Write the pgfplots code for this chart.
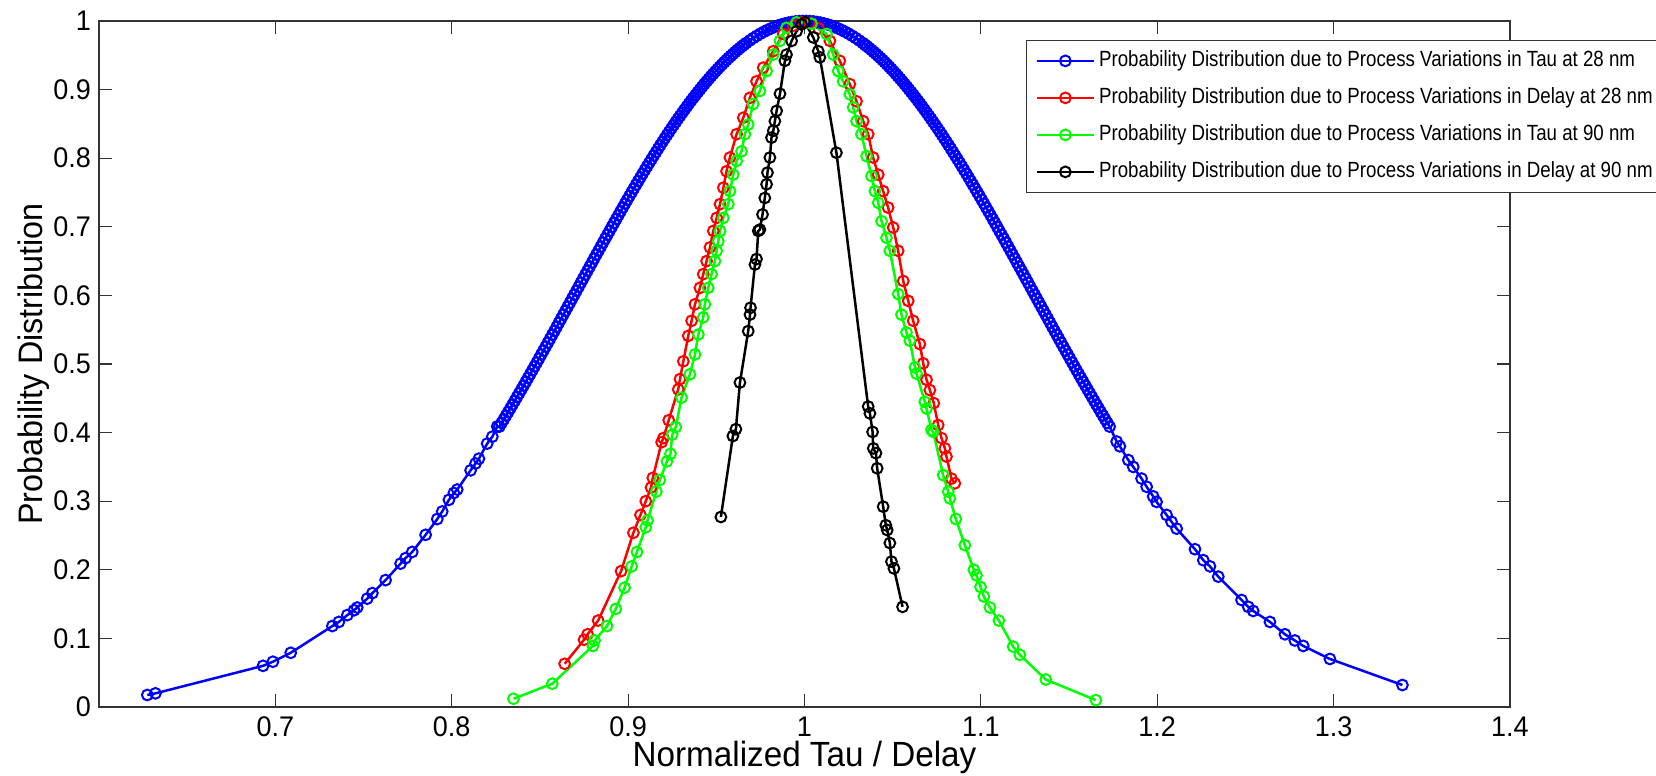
\documentclass[border=0pt]{standalone}
\usepackage{fontspec}
\setmainfont{Liberation Sans}[FakeStretch=0.95]
\newfontfamily\legfont{Liberation Sans}[FakeStretch=0.85]
\usepackage{pgfplots}
\pgfplotsset{compat=1.18}
\begin{document}
\begin{tikzpicture}
\useasboundingbox (0pt,0pt) rectangle (828pt,388pt);
\clip (0pt,0pt) rectangle (828pt,388pt);
\begin{axis}[
  at={(49.5pt,34.5pt)}, anchor=south west,
  scale only axis, width=705.5pt, height=343pt,
  xmin=0.6, xmax=1.4, ymin=0, ymax=1,
  xtick={0.7,0.8,0.9,1,1.1,1.2,1.3,1.4},
  ytick={0,0.1,0.2,0.3,0.4,0.5,0.6,0.7,0.8,0.9,1},
  tick align=inside, major tick length=6.5pt,
  every tick/.style={black!80, line width=0.6pt},
  axis line style={black!80, line width=0.7pt},
  /pgf/number format/assume math mode=true,
  ticklabel style={font=\fontsize{14.2}{16}\selectfont},
  xticklabel style={yshift=-1.3pt},
  yticklabel style={xshift=-0.5pt},
  xlabel={Normalized Tau / Delay},
  ylabel={Probability Distribution},
  xlabel style={font=\fontsize{17.5}{20}\selectfont, at={([yshift=-30pt]axis description cs:0.5,0)}, anchor=base},
  ylabel style={font=\fontsize{17}{20}\selectfont, at={([xshift=-28.5pt]axis description cs:0,0.5)}, anchor=base},
  legend cell align=left,
  legend style={at={(0.657,0.9723)}, anchor=north west, draw=black!80, line width=0.6pt,
    fill=white, inner xsep=4.5pt, inner ysep=3.9pt, row sep=6pt, column sep=1pt,
    font=\legfont\fontsize{11}{13}\selectfont,
    nodes={inner sep=1pt, text height=8pt, text depth=2.5pt}},
  legend image code/.code={\draw[mark repeat=2,mark phase=2,#1] plot coordinates {(0pt,0pt) (14.25pt,0pt) (28.5pt,0pt)};},
  every axis plot/.append style={line width=1.25pt, mark=o, mark size=2.7pt, mark options={line width=1.0pt, solid}},
]
\addplot[blue] coordinates {
(0.6274,0.0175) (0.6320,0.0199) (0.6930,0.0600) (0.6986,0.0660) (0.7087,0.0790)
(0.7323,0.1180) (0.7360,0.1240) (0.7408,0.1340) (0.7446,0.1410) (0.7464,0.1450)
(0.7521,0.1580) (0.7550,0.1660) (0.7625,0.1850) (0.7710,0.2090) (0.7738,0.2170)
(0.7776,0.2260) (0.7852,0.2510) (0.7918,0.2740) (0.7946,0.2850) (0.7984,0.3020)
(0.8012,0.3120) (0.8031,0.3170) (0.8107,0.3450) (0.8135,0.3550) (0.8154,0.3620)
(0.8201,0.3840) (0.8230,0.3940) (0.8258,0.4090)
(0.8270,0.4087) (0.8295,0.4193) (0.8320,0.4300) (0.8345,0.4409) (0.8370,0.4519)
(0.8395,0.4629) (0.8420,0.4741) (0.8445,0.4853) (0.8470,0.4966) (0.8495,0.5080)
(0.8520,0.5195) (0.8545,0.5310) (0.8570,0.5426) (0.8595,0.5542) (0.8620,0.5659)
(0.8645,0.5776) (0.8670,0.5893) (0.8695,0.6010) (0.8720,0.6127) (0.8745,0.6244)
(0.8770,0.6362) (0.8795,0.6478) (0.8820,0.6595) (0.8845,0.6711) (0.8870,0.6827)
(0.8895,0.6941) (0.8920,0.7056) (0.8945,0.7169) (0.8970,0.7282) (0.8995,0.7393)
(0.9020,0.7504) (0.9045,0.7613) (0.9070,0.7721) (0.9095,0.7828) (0.9120,0.7933)
(0.9145,0.8037) (0.9170,0.8139) (0.9195,0.8239) (0.9220,0.8337) (0.9245,0.8433)
(0.9270,0.8527) (0.9295,0.8619) (0.9320,0.8709) (0.9345,0.8796) (0.9370,0.8881)
(0.9395,0.8963) (0.9420,0.9043) (0.9445,0.9120) (0.9470,0.9194) (0.9495,0.9266)
(0.9520,0.9334) (0.9545,0.9400) (0.9570,0.9462) (0.9595,0.9521) (0.9620,0.9577)
(0.9645,0.9630) (0.9670,0.9680) (0.9710,0.9752) (0.9750,0.9815) (0.9790,0.9869)
(0.9830,0.9914) (0.9870,0.9950) (0.9910,0.9976) (0.9950,0.9993) (0.9990,1.0000)
(1.0010,1.0000) (1.0050,0.9993) (1.0090,0.9976) (1.0130,0.9950) (1.0170,0.9914)
(1.0210,0.9869) (1.0250,0.9815) (1.0290,0.9752) (1.0330,0.9680) (1.0355,0.9630)
(1.0380,0.9577) (1.0405,0.9521) (1.0430,0.9462) (1.0455,0.9400) (1.0480,0.9334)
(1.0505,0.9266) (1.0530,0.9194) (1.0555,0.9120) (1.0580,0.9043) (1.0605,0.8963)
(1.0630,0.8881) (1.0655,0.8796) (1.0680,0.8709) (1.0705,0.8619) (1.0730,0.8527)
(1.0755,0.8433) (1.0780,0.8337) (1.0805,0.8239) (1.0830,0.8139) (1.0855,0.8037)
(1.0880,0.7933) (1.0905,0.7828) (1.0930,0.7721) (1.0955,0.7613) (1.0980,0.7504)
(1.1005,0.7393) (1.1030,0.7282) (1.1055,0.7169) (1.1080,0.7056) (1.1105,0.6941)
(1.1130,0.6827) (1.1155,0.6711) (1.1180,0.6595) (1.1205,0.6478) (1.1230,0.6362)
(1.1255,0.6244) (1.1280,0.6127) (1.1305,0.6010) (1.1330,0.5893) (1.1355,0.5776)
(1.1380,0.5659) (1.1405,0.5542) (1.1430,0.5426) (1.1455,0.5310) (1.1480,0.5195)
(1.1505,0.5080) (1.1530,0.4966) (1.1555,0.4853) (1.1580,0.4741) (1.1605,0.4629)
(1.1630,0.4519) (1.1655,0.4409) (1.1680,0.4300) (1.1705,0.4193) (1.1730,0.4087)
(1.1770,0.3870) (1.1788,0.3800) (1.1836,0.3600) (1.1864,0.3500) (1.1911,0.3330)
(1.1940,0.3210) (1.1977,0.3070) (1.1996,0.2990) (1.2053,0.2800) (1.2081,0.2700)
(1.2110,0.2600) (1.2214,0.2300) (1.2261,0.2140) (1.2299,0.2050) (1.2346,0.1900)
(1.2478,0.1560) (1.2516,0.1460) (1.2544,0.1400) (1.2639,0.1240) (1.2724,0.1060)
(1.2780,0.0970) (1.2828,0.0890) (1.2979,0.0700) (1.3390,0.0320)
};
\addlegendentry{Probability Distribution due to Process Variations in Tau at 28 nm}
\addplot[blue, only marks, forget plot] coordinates {
(0.82825,0.4140) (0.83075,0.4247) (0.83325,0.4355) (0.83575,0.4464) (0.83825,0.4574)
(0.84075,0.4685) (0.84325,0.4797) (0.84575,0.4910) (0.84825,0.5023) (0.85075,0.5138)
(0.85325,0.5253) (0.85575,0.5368) (0.85825,0.5484) (0.86075,0.5601) (0.86325,0.5718)
(0.86575,0.5835) (0.86825,0.5952) (0.87075,0.6069) (0.87325,0.6186) (0.87575,0.6303)
(0.87825,0.6420) (0.88075,0.6537) (0.88325,0.6653) (0.88575,0.6769) (0.88825,0.6884)
(0.89075,0.6999) (0.89325,0.7113) (0.89575,0.7226) (0.89825,0.7338) (0.90075,0.7449)
(0.90325,0.7559) (0.90575,0.7667) (0.90825,0.7775) (0.91075,0.7881) (0.91325,0.7985)
(0.91575,0.8088) (0.91825,0.8189) (0.92075,0.8288) (0.92325,0.8385) (0.92575,0.8480)
(0.92825,0.8573) (0.93075,0.8664) (0.93325,0.8753) (0.93575,0.8839) (0.93825,0.8922)
(0.94075,0.9003) (0.94325,0.9082) (0.94575,0.9157) (0.94825,0.9230) (0.95075,0.9300)
(0.95325,0.9367) (0.95575,0.9431) (0.95825,0.9492) (0.96075,0.9549) (0.96325,0.9604)
(0.96575,0.9655) (0.969,0.9716) (0.973,0.9784) (0.977,0.9843) (0.981,0.9892)
(0.985,0.9933) (0.989,0.9964) (0.993,0.9985) (0.997,0.9997)
(1.003,0.9997) (1.007,0.9985) (1.011,0.9964) (1.015,0.9933) (1.019,0.9892)
(1.023,0.9843) (1.027,0.9784) (1.031,0.9716) (1.03425,0.9655) (1.03675,0.9604)
(1.03925,0.9549) (1.04175,0.9492) (1.04425,0.9431) (1.04675,0.9367) (1.04925,0.9300)
(1.05175,0.9230) (1.05425,0.9157) (1.05675,0.9082) (1.05925,0.9003) (1.06175,0.8922)
(1.06425,0.8839) (1.06675,0.8753) (1.06925,0.8664) (1.07175,0.8573) (1.07425,0.8480)
(1.07675,0.8385) (1.07925,0.8288) (1.08175,0.8189) (1.08425,0.8088) (1.08675,0.7985)
(1.08925,0.7881) (1.09175,0.7775) (1.09425,0.7667) (1.09675,0.7559) (1.09925,0.7449)
(1.10175,0.7338) (1.10425,0.7226) (1.10675,0.7113) (1.10925,0.6999) (1.11175,0.6884)
(1.11425,0.6769) (1.11675,0.6653) (1.11925,0.6537) (1.12175,0.6420) (1.12425,0.6303)
(1.12675,0.6186) (1.12925,0.6069) (1.13175,0.5952) (1.13425,0.5835) (1.13675,0.5718)
(1.13925,0.5601) (1.14175,0.5484) (1.14425,0.5368) (1.14675,0.5253) (1.14925,0.5138)
(1.15175,0.5023) (1.15425,0.4910) (1.15675,0.4797) (1.15925,0.4685) (1.16175,0.4574)
(1.16425,0.4464) (1.16675,0.4355) (1.16925,0.4247) (1.17175,0.4140)
};
\addplot[red] coordinates {
(0.864,0.063) (0.875,0.098) (0.877,0.106) (0.883,0.126) (0.896,0.198)
(0.903,0.254) (0.907,0.280) (0.910,0.300) (0.913,0.320) (0.914,0.334)
(0.919,0.386) (0.920,0.392) (0.923,0.418)
(0.9284,0.463) (0.9294,0.478) (0.9313,0.504) (0.9341,0.541) (0.9360,0.563)
(0.9379,0.587) (0.9407,0.611) (0.9426,0.631) (0.9445,0.650) (0.9464,0.670)
(0.9483,0.694) (0.9502,0.713) (0.9521,0.733) (0.9540,0.757) (0.9558,0.781)
(0.9577,0.801) (0.9615,0.835) (0.9653,0.859) (0.9690,0.888) (0.9728,0.912)
(0.9766,0.932) (0.9823,0.956) (0.9879,0.981) (0.9936,0.993) (0.9983,0.998)
(1.0030,0.997) (1.0080,0.989)
(1.0144,0.971) (1.0200,0.942) (1.0257,0.908) (1.0295,0.883) (1.0333,0.854)
(1.0361,0.835) (1.0389,0.801) (1.0418,0.776) (1.0446,0.752) (1.0474,0.728)
(1.0503,0.699) (1.0531,0.665) (1.0560,0.621) (1.0588,0.592) (1.0616,0.563)
(1.0654,0.529) (1.0673,0.501) (1.0692,0.477) (1.0711,0.462) (1.0733,0.443)
(1.0758,0.411) (1.0777,0.392) (1.0796,0.377) (1.0805,0.365) (1.0833,0.333)
(1.0852,0.326)
};
\addlegendentry{Probability Distribution due to Process Variations in Delay at 28 nm}
\addplot[green] coordinates {
(0.835,0.012) (0.857,0.034) (0.880,0.089) (0.881,0.097) (0.888,0.118)
(0.893,0.143) (0.898,0.174) (0.902,0.205) (0.905,0.226) (0.910,0.262)
(0.911,0.272) (0.916,0.314) (0.918,0.331) (0.922,0.358) (0.924,0.369)
(0.925,0.397) (0.927,0.408)
(0.9303,0.451) (0.9350,0.485) (0.9379,0.514) (0.9398,0.543) (0.9426,0.568)
(0.9435,0.587) (0.9454,0.611) (0.9473,0.631) (0.9492,0.650) (0.9502,0.665)
(0.9511,0.679) (0.9521,0.694) (0.9540,0.713) (0.9568,0.733) (0.9577,0.752)
(0.9596,0.776) (0.9615,0.796) (0.9643,0.810) (0.9662,0.835) (0.9681,0.849)
(0.9709,0.879) (0.9747,0.898) (0.9785,0.927) (0.9823,0.951) (0.9861,0.971)
(0.9898,0.990) (0.9955,0.998) (1.0040,0.996)
(1.0125,0.981) (1.0163,0.951) (1.0191,0.927) (1.0219,0.912) (1.0257,0.893)
(1.0276,0.874) (1.0295,0.854) (1.0323,0.835) (1.0352,0.803) (1.0380,0.774)
(1.0399,0.752) (1.0418,0.735) (1.0437,0.708) (1.0465,0.684) (1.0484,0.665)
(1.0531,0.602) (1.0550,0.572) (1.0578,0.546) (1.0597,0.534) (1.0626,0.495)
(1.0635,0.486) (1.0682,0.445) (1.0692,0.435) (1.0720,0.404) (1.0730,0.401)
(1.0786,0.338) (1.0815,0.314) (1.0824,0.304) (1.0858,0.274) (1.0909,0.236)
(1.0960,0.200) (1.0975,0.192) (1.0998,0.175) (1.1017,0.161) (1.1051,0.145)
(1.1102,0.126) (1.1183,0.088) (1.1221,0.076) (1.1368,0.040) (1.1652,0.010)
};
\addlegendentry{Probability Distribution due to Process Variations in Tau at 90 nm}
\addplot[black] coordinates {
(0.9526,0.277) (0.9594,0.395) (0.9611,0.405) (0.9634,0.473) (0.9681,0.548)
(0.9691,0.572) (0.9694,0.582) (0.9719,0.645) (0.9728,0.653) (0.9738,0.694)
(0.9747,0.696) (0.9762,0.718) (0.9775,0.742) (0.9785,0.762) (0.9790,0.779)
(0.9804,0.801) (0.9813,0.830) (0.9823,0.840) (0.9832,0.854) (0.9842,0.869)
(0.9861,0.894) (0.9889,0.942) (0.9898,0.951) (0.9927,0.971) (0.9955,0.985)
(0.9983,0.995) (1.0002,0.998) (1.0050,0.976) (1.0078,0.956) (1.0087,0.947)
(1.0181,0.808) (1.0361,0.438) (1.0371,0.428) (1.0386,0.401) (1.0390,0.377)
(1.0405,0.370) (1.0412,0.348) (1.0446,0.292) (1.0461,0.265) (1.0469,0.258)
(1.0484,0.239) (1.0493,0.212) (1.0507,0.202) (1.0556,0.146)
};
\addlegendentry{Probability Distribution due to Process Variations in Delay at 90 nm}
\end{axis}
\end{tikzpicture}
\end{document}
